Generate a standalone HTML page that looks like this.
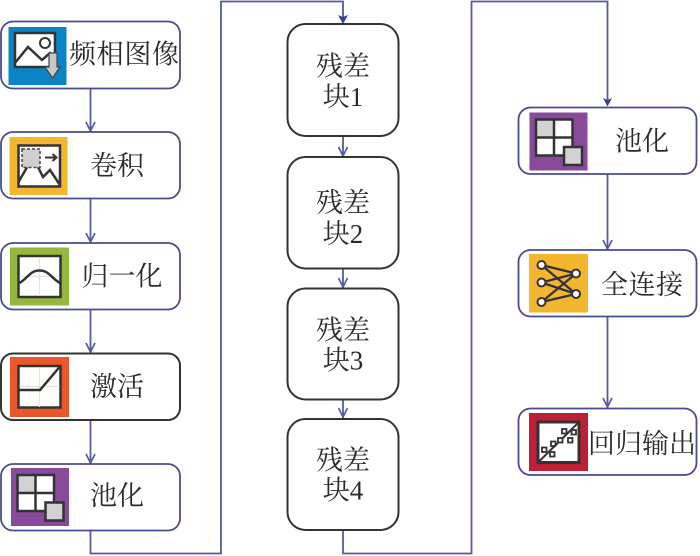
<!DOCTYPE html>
<html><head><meta charset="utf-8"><style>
html,body{margin:0;padding:0;background:#fff}
svg{display:block;filter:blur(0.3px)}
text{font-family:"Liberation Serif","Noto Serif CJK SC",serif;font-size:27px;fill:#2b2b2b;text-anchor:middle}
.b{fill:#fff;stroke:#474b8f;stroke-width:1.8}
.k{fill:#fff;stroke:#333;stroke-width:2}
.c{fill:none;stroke:#545aa3;stroke-width:1.8}
.a{fill:none;stroke:#545aa3;stroke-width:1.7}
.s{fill:#3a3f94}
.i{fill:#fff;stroke:#333;stroke-width:2.5}
.l{fill:none;stroke:#333;stroke-width:2.5}
.g{stroke:#e2e2e2;stroke-width:1.2;fill:none}
</style></head><body>
<svg width="700" height="556" viewBox="0 0 700 556" xmlns="http://www.w3.org/2000/svg">
<defs>
<g id="pool">
<rect x="0" y="0" width="58" height="58" fill="#8a4a9c"/>
<rect x="6.500" y="7" width="36.500" height="36" fill="#fff"/>
<rect x="6.500" y="7" width="18" height="18" fill="#d2d2d2"/>
<rect x="6.500" y="7" width="36.500" height="36" fill="none" stroke="#333" stroke-width="2.500"/>
<path d="M24.500 7V43M6.500 25H43" stroke="#333" stroke-width="2.500"/>
<rect x="34.500" y="34.500" width="18" height="18" fill="#d2d2d2" stroke="#333" stroke-width="2.500"/>
</g>
</defs>

<!-- connectors -->
<path class="c" d="M90.500 88V132M90.500 198V243M90.500 309V353M90.500 420V464"/>
<path class="a" d="M86 122L90.500 131L95 122M86 233L90.500 242L95 233M86 343L90.500 352L95 343M86 454L90.500 463L95 454"/>
<path class="c" d="M90.500 530V553.500H221V1.500H343V20"/>
<path class="s" d="M338 15L343 24L348 15L343 17Z"/>
<path class="c" d="M343 136V157M343 268V289M343 399V419"/>
<path class="a" d="M338.500 147L343 156L347.500 147M338.500 278L343 287L347.500 278M338.500 408L343 417L347.500 408"/>
<path class="c" d="M343 530V553.500H471.500V1.500H607.500V103"/>
<path class="s" d="M603 98L607.500 106.500L612 98L607.500 100Z"/>
<path class="c" d="M607.500 174V250M607.500 316V408"/>
<path class="a" d="M603 240L607.500 249L612 240M603 398L607.500 407L612 398"/>

<!-- left boxes -->
<rect class="b" x="1" y="21.500" width="179" height="67" rx="12"/>
<rect class="b" x="1" y="132" width="179" height="66.500" rx="12"/>
<rect class="b" x="1" y="243" width="179" height="66.500" rx="12"/>
<rect class="k" x="1" y="353.500" width="179" height="66.500" rx="12"/>
<rect class="b" x="1" y="464" width="179" height="66.500" rx="12"/>

<!-- middle boxes -->
<rect class="k" x="287.500" y="24" width="111" height="112" rx="18"/>
<rect class="k" x="287.500" y="157" width="111" height="111.500" rx="18"/>
<rect class="k" x="287.500" y="288.500" width="111" height="111" rx="18"/>
<rect class="k" x="287.500" y="419" width="111" height="111" rx="18"/>

<!-- right boxes -->
<rect class="b" x="518.500" y="107.500" width="178" height="66.500" rx="12"/>
<rect class="b" x="518.500" y="250" width="178" height="66.500" rx="12"/>
<rect class="b" x="518.500" y="408.500" width="178" height="66.500" rx="12"/>

<!-- icon 1 -->
<rect x="8.500" y="27" width="58" height="58" fill="#0a84c6"/>
<rect class="i" x="15" y="33" width="40" height="34"/>
<path class="l" d="M15 63L28 47L42 60L50 53L55 57"/>
<circle cx="45" cy="43" r="5" fill="#fff" stroke="#333" stroke-width="2"/>
<path d="M49 53H57V67H60L52.500 78L45 67H49Z" fill="#c9c9c9" stroke="#444" stroke-width="1.200"/>

<!-- icon 2 -->
<rect x="9.500" y="137" width="58" height="58" fill="#f4b62f"/>
<rect class="i" x="18.500" y="145.500" width="41.500" height="41"/>
<path class="l" d="M18.500 182L33 157L43 177L50 170L60 185"/>
<rect x="22" y="149" width="18" height="18.500" fill="#cfcfcf" stroke="#444" stroke-width="1.500" stroke-dasharray="3 2"/>
<path d="M45 157.500H56M52.500 154L56.500 157.500L52.500 161" fill="none" stroke="#333" stroke-width="2"/>

<!-- icon 3 -->
<rect x="10" y="247.500" width="59" height="58" fill="#94b83e"/>
<rect class="i" x="18.500" y="256" width="42" height="41"/>
<path class="g" d="M39.500 257V296M19.500 276.500H59.500"/>
<path class="l" d="M19.500 283C28 278 30 270.500 39.500 270.500C49 270.500 51 278 60 283"/>

<!-- icon 4 -->
<rect x="10" y="357" width="59" height="60" fill="#e9582a"/>
<rect class="i" x="18.500" y="366" width="42" height="41.500"/>
<path class="g" d="M39.500 367V407M19.500 386.500H59.500"/>
<path class="l" d="M18.500 390H40L60 366.500"/>

<!-- pool icons -->
<use href="#pool" x="11" y="468"/>
<use href="#pool" x="529.500" y="112.500"/>

<!-- icon FC -->
<rect x="529" y="254" width="59" height="58.500" fill="#f4b62f"/>
<path d="M541.500 265L576 273.500M541.500 265L576 294M541.500 282.500L576 273.500M541.500 282.500L576 294M541.500 302L576 273.500M541.500 302L576 294" stroke="#333" stroke-width="2.300" fill="none"/>
<circle cx="541.500" cy="265" r="4" fill="#fff" stroke="#333" stroke-width="2"/>
<circle cx="541.500" cy="282.500" r="4" fill="#fff" stroke="#333" stroke-width="2"/>
<circle cx="541.500" cy="302" r="4" fill="#fff" stroke="#333" stroke-width="2"/>
<circle cx="576" cy="273.500" r="4" fill="#fff" stroke="#333" stroke-width="2"/>
<circle cx="576" cy="294" r="4" fill="#fff" stroke="#333" stroke-width="2"/>

<!-- icon regression -->
<rect x="529" y="413" width="59" height="58" fill="#bd2036"/>
<rect x="538" y="422" width="41" height="40.500" fill="#fff" stroke="#333" stroke-width="3"/>
<path d="M538 462.500L579 422" stroke="#333" stroke-width="2"/>
<g fill="#fff" stroke="#333" stroke-width="1.800">
<rect x="542" y="447.500" width="4.500" height="4.500"/><rect x="550" y="452" width="4.500" height="4.500"/><rect x="551" y="441.500" width="4.500" height="4.500"/><rect x="558" y="438" width="4.500" height="4.500"/><rect x="568" y="438" width="4.500" height="4.500"/><rect x="562" y="429" width="4.500" height="4.500"/><rect x="571.500" y="430" width="4.500" height="4.500"/>
</g>

<!-- labels -->
<text x="124" y="63.500" textLength="110" lengthAdjust="spacing">频相图像</text>
<text x="117" y="175" textLength="54">卷积</text>
<text x="122" y="285.500" textLength="81">归一化</text>
<text x="117" y="396">激活</text>
<text x="117" y="505">池化</text>
<text x="343" y="75.500" textLength="54">残差</text>
<text x="343" y="106">块1</text>
<text x="343" y="212" textLength="54">残差</text>
<text x="343" y="243">块2</text>
<text x="343" y="339.500" textLength="54">残差</text>
<text x="343" y="369.500">块3</text>
<text x="343" y="469.500" textLength="54">残差</text>
<text x="343" y="499.500">块4</text>
<text x="642" y="150.500">池化</text>
<text x="642" y="294" textLength="82">全连接</text>
<text x="642" y="453" textLength="108">回归输出</text>
</svg>
</body></html>
